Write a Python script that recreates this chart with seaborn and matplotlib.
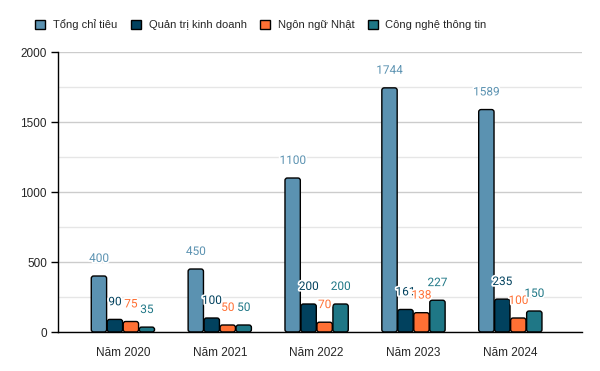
import matplotlib
matplotlib.use('Agg')
import matplotlib.pyplot as plt
import matplotlib.patheffects as pe
from matplotlib.patches import FancyBboxPatch
from matplotlib.ticker import MultipleLocator
import pandas as pd
import seaborn as sns

# dữ liệu
years = ['Năm 2020', 'Năm 2021', 'Năm 2022', 'Năm 2023', 'Năm 2024']
series = ['Tổng chỉ tiêu', 'Quản trị kinh doanh', 'Ngôn ngữ Nhật', 'Công nghệ thông tin']
tong_chi_tieu = [400, 450, 1100, 1744, 1589]
quan_tri = [90, 100, 200, 161, 235]
ngon_ngu_nhat = [75, 50, 70, 138, 100]
cntt = [35, 50, 200, 227, 150]
colors = ['#5b92b1', '#01415e', '#ff7034', '#1f7786']

sns.set_theme(style='white')
plt.rcParams['font.family'] = ['Liberation Sans', 'DejaVu Sans']

df = pd.DataFrame({
    'year': years * 4,
    'series': [s for s in series for _ in years],
    'value': tong_chi_tieu + quan_tri + ngon_ngu_nhat + cntt,
})

fig = plt.figure(figsize=(6, 3.71), dpi=100)
ax = fig.add_axes([0.0967, 0.1051, 0.8733, 0.7547])

sns.barplot(data=df, x='year', y='value', hue='series', hue_order=series,
            palette=colors, saturation=1, width=0.66, edgecolor='black',
            linewidth=1.0, ax=ax, legend=True, gap=0.04)

ax.set_ylim(0, 2000)
ax.set_xlim(-0.67, 4.74)

# bo góc cột
aspect = (2000 / 280) / (5.41 / 524)
for cont in ax.containers:
    for bar in cont:
        bar.set_visible(False)
        rb = FancyBboxPatch((bar.get_x(), 0), bar.get_width(), bar.get_height(),
                            boxstyle='round,pad=0,rounding_size=0.025',
                            mutation_aspect=aspect, facecolor=bar.get_facecolor(),
                            edgecolor='black', linewidth=1.0, zorder=2)
        ax.add_patch(rb)

# nhãn số liệu
for cont, col in zip(ax.containers, colors):
    for bar, v in zip(cont, cont.datavalues):
        ax.annotate(f'{v:g}', (bar.get_x() + bar.get_width() / 2, bar.get_height()),
                    xytext=(0, 8), textcoords='offset points', ha='center', va='bottom',
                    fontsize=8.5, color=col, family=['Roboto', 'DejaVu Sans'], zorder=3,
                    path_effects=[pe.withStroke(linewidth=2.5, foreground='white')])

ax.yaxis.set_major_locator(MultipleLocator(500))
ax.yaxis.set_minor_locator(MultipleLocator(250))
ax.grid(True, which='major', axis='y', color='#cccccc', linewidth=1)
ax.grid(True, which='minor', axis='y', color='#e6e6e6', linewidth=1)
ax.set_axisbelow(True)
ax.set_xlabel('')
ax.set_ylabel('')

for s in ['top', 'right']:
    ax.spines[s].set_visible(False)
ax.spines['left'].set_color('black')
ax.spines['bottom'].set_color('black')
ax.spines['left'].set_linewidth(1)
ax.spines['bottom'].set_linewidth(1)
ax.spines['bottom'].set_zorder(4)
ax.tick_params(axis='y', which='major', left=True, length=5, width=1, color='black',
               labelsize=8.5, pad=3)
ax.tick_params(axis='y', which='minor', left=False)
ax.tick_params(axis='x', bottom=False, labelsize=8.5, pad=5)

handles, labels = ax.get_legend_handles_labels()
ax.get_legend().remove()
fig.legend(handles, labels, loc='center', bbox_to_anchor=(0.435, 0.933), ncol=4,
           frameon=False, fontsize=8, handlelength=0.9, handleheight=0.9,
           handletextpad=0.7, columnspacing=1.2)

fig.savefig('out.png', dpi=100)
